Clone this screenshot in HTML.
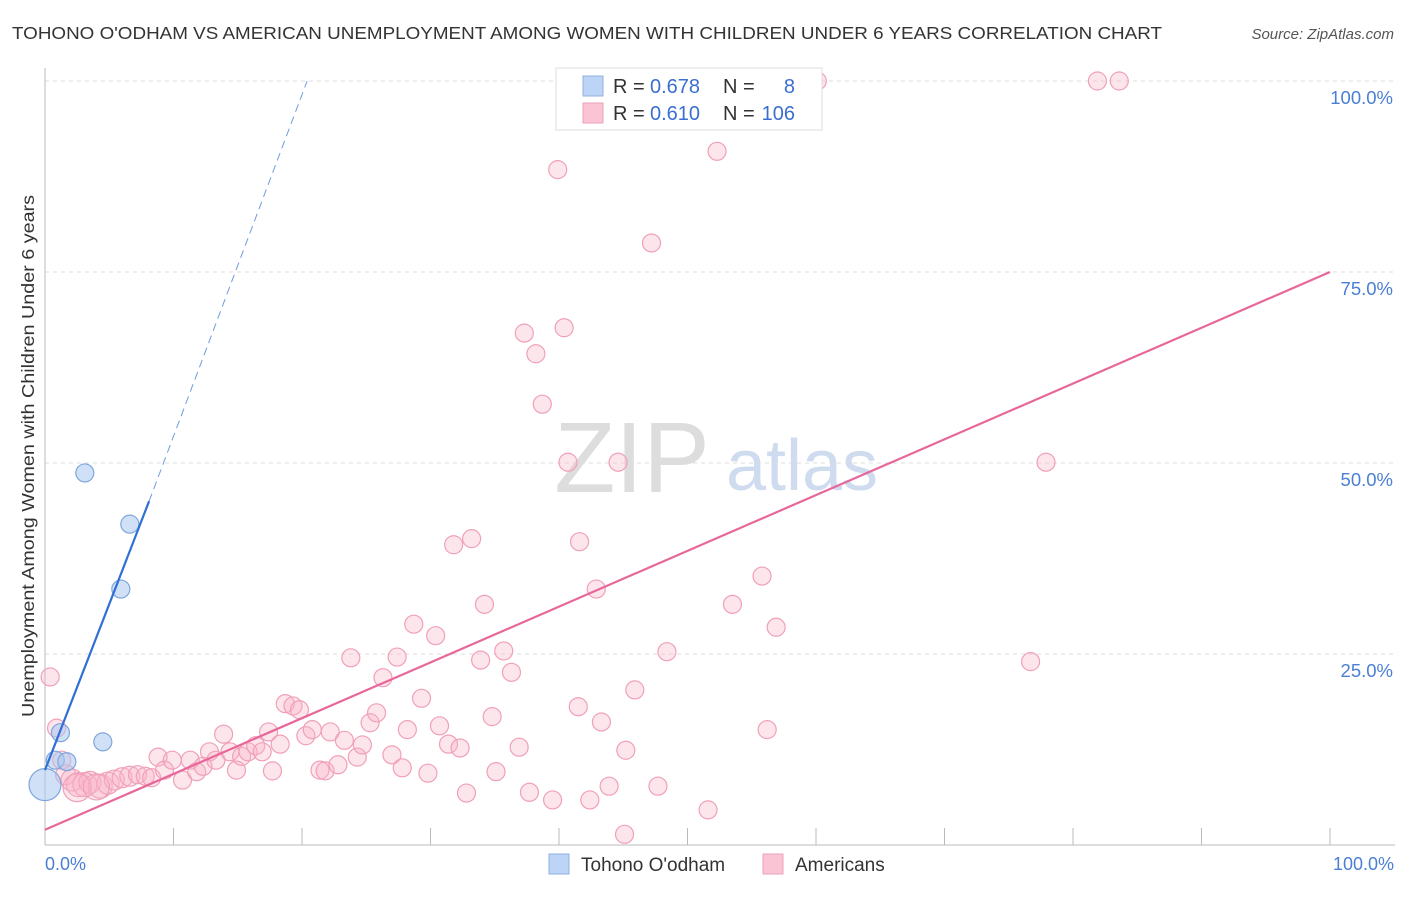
<!DOCTYPE html>
<html><head><meta charset="utf-8"><style>
body{margin:0;background:#fff;font-family:"Liberation Sans",sans-serif}
svg text{font-family:"Liberation Sans",sans-serif}
</style></head><body>
<svg width="1406" height="892" xmlns="http://www.w3.org/2000/svg" id="chart">
<text x="12" y="39" font-size="17.5" fill="#333" textLength="1150" lengthAdjust="spacingAndGlyphs">TOHONO O'ODHAM VS AMERICAN UNEMPLOYMENT AMONG WOMEN WITH CHILDREN UNDER 6 YEARS CORRELATION CHART</text>
<text x="1394" y="39" font-size="15" fill="#555" font-style="italic" text-anchor="end">Source: ZipAtlas.com</text>
<text x="632" y="492" font-size="100" fill="#ddd" font-family="Liberation Serif" text-anchor="middle">ZIP</text>
<text x="802" y="490" font-size="72" fill="#cfdcf0" text-anchor="middle">atlas</text>
<g id="grid"></g><g id="axes"></g><g id="marks"></g>
<text transform="translate(34,456) rotate(-90)" font-size="17.5" fill="#333" text-anchor="middle" textLength="522" lengthAdjust="spacingAndGlyphs">Unemployment Among Women with Children Under 6 years</text>
<text x="45" y="870" font-size="18" fill="#4a7fd4">0.0%</text>
<text x="1394" y="870" font-size="18" fill="#4a7fd4" text-anchor="end">100.0%</text>
<g>
<rect x="556" y="68" width="266" height="62" fill="#fff" stroke="#ddd"/>
<rect x="583" y="76" width="20" height="20" fill="#bcd4f5" stroke="#8fb0e0"/>
<rect x="583" y="103" width="20" height="20" fill="#fbc4d4" stroke="#eda0b8"/>
<text x="613" y="93" font-size="20" fill="#333">R =</text>
<text x="650" y="93" font-size="20" fill="#3a6fd0">0.678</text>
<text x="723" y="93" font-size="20" fill="#333">N =</text>
<text x="795" y="93" font-size="20" fill="#3a6fd0" text-anchor="end">8</text>
<text x="613" y="120" font-size="20" fill="#333">R =</text>
<text x="650" y="120" font-size="20" fill="#3a6fd0">0.610</text>
<text x="723" y="120" font-size="20" fill="#333">N =</text>
<text x="795" y="120" font-size="20" fill="#3a6fd0" text-anchor="end">106</text>
</g>
<g>
<rect x="549" y="854" width="20" height="20" fill="#bcd4f5" stroke="#8fb0e0"/>
<text x="581" y="871" font-size="19" fill="#333">Tohono O'odham</text>
<rect x="763" y="854" width="20" height="20" fill="#fbc4d4" stroke="#eda0b8"/>
<text x="795" y="871" font-size="19" fill="#333">Americans</text>
</g>
</svg>
<script>
const yTicks=[25,50,75,100];
const yTickLabels=["25.0%","50.0%","75.0%","100.0%"];
const xTicks=[0,10,20,30,40,50,60,70,80,90,100];
const blueX=[0,0.8,1.2,1.7,3.1,4.5,5.9,6.6];
const blueY=[7.9,11.1,14.7,10.9,48.7,13.5,33.5,42.0];
const pinkX=[0.4,0.9,1.3,1.6,2.1,2.6,3.1,3.5,4.3,4.9,5.4,6.0,6.6,7.2,7.8,8.3,8.8,9.3,9.9,10.7,11.3,11.8,12.3,12.8,13.3,13.9,14.4,14.9,15.3,15.8,16.4,16.9,17.4,17.7,18.3,18.7,19.3,19.8,20.3,20.8,21.4,21.8,22.2,22.8,23.3,23.8,24.3,24.7,25.3,25.8,26.3,27.0,27.4,27.8,28.2,28.7,29.3,29.8,30.4,30.7,31.4,31.8,32.3,32.8,33.2,33.9,34.2,34.8,35.1,35.7,36.3,36.9,37.3,37.7,38.2,38.7,39.5,39.9,40.4,40.7,41.5,41.6,42.4,42.9,43.3,43.9,44.6,45.1,45.2,45.9,47.2,47.7,48.4,51.6,52.3,53.5,55.8,56.2,56.9,60.1,76.7,77.9,81.9,83.6,2.5,4.0];
const pinkY=[22,15.3,11.1,9.2,8.5,7.9,7.9,8.2,7.7,8.1,8.5,8.8,9.0,9.2,9.0,8.8,11.5,9.8,11.1,8.5,11.1,9.6,10.3,12.2,11.1,14.5,12.2,9.8,11.6,12.2,13.0,12.2,14.8,9.7,13.2,18.5,18.2,17.7,14.3,15.1,9.8,9.7,14.8,10.5,13.7,24.5,11.5,13.1,16.0,17.3,21.9,11.8,24.6,10.1,15.1,28.9,19.2,9.4,27.4,15.6,13.2,39.3,12.7,6.8,40.1,24.2,31.5,16.8,9.6,25.4,22.6,12.8,67.0,6.9,64.3,57.7,5.9,88.4,67.7,50.1,18.1,39.7,5.9,33.5,16.1,7.7,50.1,1.4,12.4,20.3,78.8,7.7,25.3,4.6,90.8,31.5,35.2,15.1,28.5,100,24.0,50.1,100,100,7.5,7.6];
const pinkR=[9,9,9,10,11,12,12,11,12,11,10,10,10,9,9,9,9,9,9,9,9,9,9,9,9,9,9,9,9,9,9,9,9,9,9,9,9,9,9,9,9,9,9,9,9,9,9,9,9,9,9,9,9,9,9,9,9,9,9,9,9,9,9,9,9,9,9,9,9,9,9,9,9,9,9,9,9,9,9,9,9,9,9,9,9,9,9,9,9,9,9,9,9,9,9,9,9,9,9,9,9,9,9,9,14,13];
const blueR=[16,9,9,9,9,9,9,9];
const pinkLine=[[0,2],[100,75]];
const blueSolid=[[0,9.8],[8.1,45]];
const blueDash=[[8.1,45],[20.4,100]];
const X=v=>45+v*12.85, Y=v=>845-v*7.64;
const NS="http://www.w3.org/2000/svg";
function mk(t,a,p){const e=document.createElementNS(NS,t);for(const k in a)e.setAttribute(k,a[k]);p.appendChild(e);return e;}
const grid=document.getElementById('grid'),axes=document.getElementById('axes'),marks=document.getElementById('marks');
yTicks.forEach((t,i)=>{
 const l=mk('line',{x1:45,x2:1395,y1:Y(t),y2:Y(t),stroke:'#ddd','stroke-dasharray':'4,4'},grid);
 
 
 const tx=mk('text',{x:1393,y:Y(t)+23,'font-size':18.5,fill:'#4a7fd4','text-anchor':'end'},grid);
 tx.textContent=yTickLabels[i];
 
 
});
const ya=mk('line',{x1:45,x2:45,y1:68,y2:845,stroke:'#bbb'},axes);


const xa=mk('line',{x1:45,x2:1395,y1:845,y2:845,stroke:'#bbb'},axes);


xTicks.forEach(t=>{const l=mk('line',{x1:X(t),x2:X(t),y1:828,y2:845,stroke:'#bbb'},axes);
 
 });
pinkX.forEach((v,i)=>{const c=mk('circle',{cx:X(v),cy:Y(pinkY[i]),r:pinkR[i],fill:'rgba(248,180,200,0.35)',stroke:'#f0a0b8','stroke-width':1.2},marks);
 
 });
blueX.forEach((v,i)=>{const c=mk('circle',{cx:X(v),cy:Y(blueY[i]),r:blueR[i],fill:'rgba(170,200,240,0.55)',stroke:'#7fa6dc','stroke-width':1.2},marks);
 
 });
const pl=mk('line',{x1:X(pinkLine[0][0]),y1:Y(pinkLine[0][1]),x2:X(pinkLine[1][0]),y2:Y(pinkLine[1][1]),stroke:'#e8679a','stroke-width':2.2},marks);


const bs=mk('line',{x1:X(blueSolid[0][0]),y1:Y(blueSolid[0][1]),x2:X(blueSolid[1][0]),y2:Y(blueSolid[1][1]),stroke:'#2f6fd6','stroke-width':2.2},marks);


const bd=mk('line',{x1:X(blueDash[0][0]),y1:Y(blueDash[0][1]),x2:X(blueDash[1][0]),y2:Y(blueDash[1][1]),stroke:'#6f9be0','stroke-width':1,'stroke-dasharray':'8,5'},marks);


</script>
</body></html>
